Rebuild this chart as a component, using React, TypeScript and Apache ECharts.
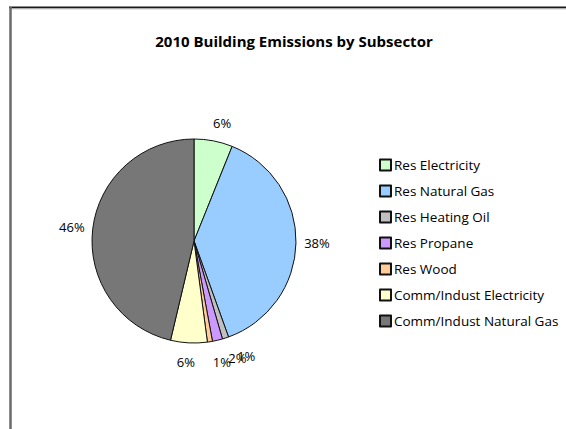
import React, { useEffect, useRef } from "react";
import * as echarts from "echarts";

const categories = [
  "Res Electricity",
  "Res Natural Gas",
  "Res Heating Oil",
  "Res Propane",
  "Res Wood",
  "Comm/Indust Electricity",
  "Comm/Indust Natural Gas",
];
const shares = [6.1, 38.4, 1.0, 1.6, 0.8, 5.8, 46.3];
const colors = ["#CCFFCC", "#99CCFF", "#C0C0C0", "#CC99FF", "#FFCC99", "#FFFFCC", "#777777"];
const title = "2010 Building Emissions by Subsector";

// label placement nudges (degrees, px) to mimic the original's crowded small labels
const labelAngleNudge = [2.5, 0, -6.5, -7, -4, 1, 0];
const labelRadiusExtra = [19, 21, 24, 23, 22, 19, 21];

const CX = 194;
const CY = 241;
const R = 102;
const FONT = "Open Sans";

export default function App() {
  const ref = useRef<HTMLDivElement>(null);
  useEffect(() => {
    if (!ref.current) return;
    const chart = echarts.init(ref.current, null, { renderer: "svg" });
    const total = shares.reduce((a, b) => a + b, 0);
    const before: number[] = [];
    shares.reduce((acc, v, i) => {
      before[i] = acc;
      return acc + v;
    }, 0);
    chart.setOption({
      animation: false,
      backgroundColor: "#ffffff",
      title: {
        text: title,
        left: 289,
        top: 28,
        textAlign: "center",
        textStyle: { fontFamily: FONT, fontSize: 15, fontWeight: "bold", color: "#000" },
      },
      legend: {
        orient: "vertical",
        left: 374,
        top: 153,
        itemWidth: 11,
        itemHeight: 11,
        itemGap: 12,
        icon: "rect",
        selectedMode: false,
        textStyle: { fontFamily: FONT, fontSize: 13.5, lineHeight: 14, color: "#000", padding: [0, 0, 0, -2] },
        data: categories,
      },
      graphic: [
        { type: "line", shape: { x1: 9, y1: 7.5, x2: 566, y2: 7.5 }, style: { stroke: "#1a1a1a", lineWidth: 2 } },
        { type: "line", shape: { x1: 9, y1: 9, x2: 566, y2: 9 }, style: { stroke: "#cccccc", lineWidth: 1 } },
        { type: "line", shape: { x1: 10.5, y1: 7, x2: 10.5, y2: 429 }, style: { stroke: "#6a6a6a", lineWidth: 2.5 } },
      ],
      series: [
        {
          type: "pie",
          center: [CX, CY],
          radius: R,
          startAngle: 90,
          clockwise: true,
          avoidLabelOverlap: false,
          itemStyle: { borderColor: "#111", borderWidth: 1 },
          label: {
            show: true,
            position: "outside",
            fontFamily: FONT,
            fontSize: 13,
            color: "#000",
            formatter: (p: any) => Math.round(p.value) + "%",
          },
          labelLine: { show: false },
          labelLayout: (p: any) => {
            const i = p.dataIndex;
            const mid =
              ((before[i] + shares[i] / 2) / total) * Math.PI * 2 +
              (labelAngleNudge[i] * Math.PI) / 180;
            const rr = R + labelRadiusExtra[i];
            return {
              x: CX + rr * Math.sin(mid),
              y: CY - rr * Math.cos(mid),
              align: "center",
              verticalAlign: "middle",
            };
          },
          data: categories.map((name, i) => ({
            name,
            value: shares[i],
            itemStyle: { color: colors[i] },
          })),
        },
      ],
    });
    return () => chart.dispose();
  }, []);
  return (
    <div
      ref={ref}
      style={{ position: "fixed", left: 0, top: 0, width: 566, height: 429 }}
    />
  );
}
